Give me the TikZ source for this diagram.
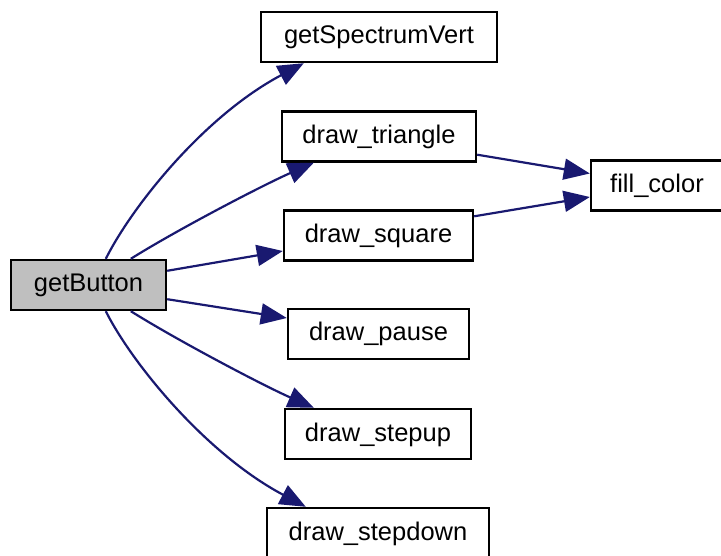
\documentclass[tikz,border=0pt]{standalone}
\usepackage{fontspec}
\setmainfont{Liberation Sans}
\usetikzlibrary{arrows.meta,calc}
\definecolor{edgeblue}{RGB}{25,25,112}
\definecolor{callerfill}{RGB}{191,191,191}
\begin{document}
\begin{tikzpicture}[x=1pt,y=-1pt,
  fn/.style={draw=black, line width=2.4pt, fill=white, inner sep=0pt,
    font=\fontsize{25.5}{30}\selectfont, text height=19pt, text depth=5pt,
    minimum height=50pt},
  call/.style={draw=edgeblue, line width=2.2pt,
    -{Triangle[length=26pt,width=21pt]}}]
\useasboundingbox (0,0) rectangle (721,556);

% functions
\node[fn, fill=callerfill, minimum width=155pt] (gb)  at (88.5,285)  {getButton};
\node[fn, minimum width=236pt] (gsv) at (379,37)    {getSpectrumVert};
\node[fn, minimum width=194pt] (dt)  at (379,136.5) {draw\_triangle};
\node[fn, minimum width=189pt] (ds)  at (378.5,235.5) {draw\_square};
\node[fn, minimum width=181pt] (dp)  at (378.5,334) {draw\_pause};
\node[fn, minimum width=186pt] (dsu) at (378,434)   {draw\_stepup};
\node[fn, minimum width=222pt] (dsd) at (378,533)   {draw\_stepdown};
\node[fn, minimum width=132pt] (fc)  at (657,185.5) {fill\_color};

% calls made by getButton
\draw[call] ($(gb.north west)+(96,0)$) .. controls +(26,-52) and +(-100,53) .. ($(gsv.south west)+(44,0)$);
\draw[call] ($(gb.north west)+(121,0)$) .. controls +(48,-30) and +(-50,22) .. ($(dt.south west)+(33,0)$);
\draw[call] ($(gb.north east)+(0,12)$) -- ($(ds.west)+(0,15.5)$);
\draw[call] ($(gb.south east)+(0,-12)$) -- ($(dp.west)+(0,-16)$);
\draw[call] ($(gb.south west)+(121,0)$) .. controls +(48,30) and +(-50,-22) .. ($(dsu.north west)+(30,0)$);
\draw[call] ($(gb.south west)+(96,0)$) .. controls +(26,52) and +(-100,-53) .. ($(dsd.north west)+(40,0)$);

% calls into fill_color
\draw[call] ($(dt.south east)+(0,-8)$) -- ($(fc.west)+(0,-12)$);
\draw[call] ($(ds.north east)+(0,7)$) -- ($(fc.west)+(0,11.5)$);
\end{tikzpicture}
\end{document}
